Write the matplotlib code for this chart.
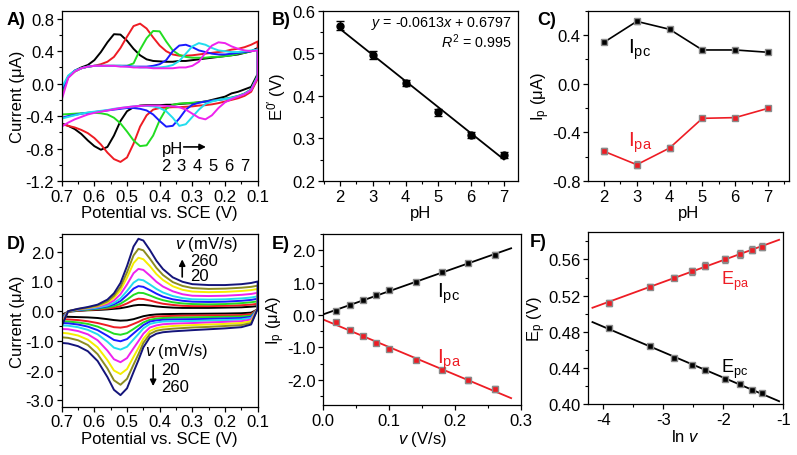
import numpy as np
import matplotlib.pyplot as plt
from matplotlib.ticker import MultipleLocator, FormatStrFormatter

plt.rcParams['font.family'] = ['Liberation Sans', 'DejaVu Sans']
plt.rcParams['mathtext.fontset'] = 'custom'
plt.rcParams['mathtext.rm'] = 'Liberation Sans'
plt.rcParams['mathtext.it'] = 'Liberation Sans:italic'
plt.rcParams['mathtext.bf'] = 'Liberation Sans:bold'
plt.rcParams['font.size'] = 12
plt.rcParams['axes.unicode_minus'] = False
plt.rcParams['axes.linewidth'] = 0.9

# ---------------- data ----------------
# panel A: CVs at different pH, potential grid (V)
potA = [0.70, 0.68, 0.66, 0.64, 0.62, 0.60, 0.58, 0.56, 0.54, 0.52, 0.50,
        0.48, 0.46, 0.44, 0.42, 0.40, 0.38, 0.36, 0.34, 0.32, 0.30, 0.28,
        0.26, 0.24, 0.22, 0.20, 0.18, 0.16, 0.14, 0.12, 0.10]
pH_labels = ['2', '3', '4', '5', '6', '7']
upperA = [
    [-0.12, 0.09, 0.16, 0.20, 0.23, 0.29, 0.39, 0.51, 0.61, 0.605, 0.53, 0.43, 0.35, 0.30, 0.28, 0.275,
     0.27, 0.27, 0.28, 0.28, 0.29, 0.30, 0.31, 0.32, 0.33, 0.34, 0.35, 0.36, 0.38, 0.40, 0.44],
    [-0.15, 0.08, 0.15, 0.19, 0.21, 0.22, 0.24, 0.27, 0.33, 0.44, 0.58, 0.71, 0.74, 0.68, 0.57, 0.47,
     0.40, 0.36, 0.345, 0.345, 0.35, 0.36, 0.37, 0.38, 0.39, 0.40, 0.42, 0.43, 0.45, 0.48, 0.52],
    [-0.12, 0.08, 0.15, 0.19, 0.21, 0.22, 0.22, 0.22, 0.22, 0.22, 0.22, 0.25, 0.42, 0.56, 0.65, 0.645,
     0.52, 0.41, 0.355, 0.33, 0.32, 0.32, 0.32, 0.33, 0.33, 0.34, 0.35, 0.37, 0.38, 0.40, 0.42],
    [-0.08, 0.09, 0.16, 0.19, 0.21, 0.22, 0.22, 0.22, 0.22, 0.22, 0.22, 0.21, 0.21, 0.21, 0.22, 0.24,
     0.29, 0.40, 0.47, 0.48, 0.45, 0.41, 0.39, 0.37, 0.36, 0.36, 0.37, 0.38, 0.39, 0.40, 0.42],
    [-0.05, 0.10, 0.16, 0.19, 0.21, 0.22, 0.22, 0.22, 0.22, 0.22, 0.21, 0.21, 0.20, 0.20, 0.20, 0.20,
     0.21, 0.23, 0.28, 0.37, 0.46, 0.50, 0.48, 0.44, 0.41, 0.40, 0.39, 0.39, 0.40, 0.41, 0.42],
    [-0.20, 0.07, 0.15, 0.19, 0.21, 0.22, 0.22, 0.22, 0.22, 0.21, 0.21, 0.20, 0.20, 0.20, 0.19, 0.19,
     0.19, 0.19, 0.20, 0.20, 0.22, 0.27, 0.38, 0.47, 0.51, 0.50, 0.46, 0.43, 0.41, 0.40, 0.41],
]
lowerA = [
    [-0.49, -0.52, -0.56, -0.62, -0.70, -0.77, -0.815, -0.78, -0.64, -0.46, -0.34, -0.29, -0.27, -0.265,
     -0.265, -0.265, -0.26, -0.26, -0.25, -0.245, -0.24, -0.23, -0.22, -0.20, -0.18, -0.16, -0.12,
     -0.10, -0.07, -0.04, 0.12],
    [-0.50, -0.52, -0.54, -0.57, -0.61, -0.67, -0.75, -0.85, -0.93, -0.965, -0.91, -0.74, -0.53, -0.39,
     -0.32, -0.30, -0.295, -0.29, -0.29, -0.285, -0.28, -0.27, -0.265, -0.255, -0.24, -0.22, -0.20,
     -0.18, -0.15, -0.10, 0.06],
    [-0.38, -0.375, -0.37, -0.365, -0.36, -0.36, -0.365, -0.38, -0.42, -0.49, -0.59, -0.70, -0.77, -0.76,
     -0.64, -0.45, -0.31, -0.26, -0.245, -0.24, -0.235, -0.23, -0.22, -0.21, -0.20, -0.185, -0.17,
     -0.15, -0.12, -0.07, 0.10],
    [-0.42, -0.40, -0.385, -0.37, -0.36, -0.35, -0.34, -0.33, -0.32, -0.31, -0.30, -0.30, -0.31, -0.33,
     -0.38, -0.46, -0.53, -0.52, -0.43, -0.32, -0.26, -0.235, -0.22, -0.21, -0.20, -0.19, -0.175,
     -0.155, -0.125, -0.075, 0.09],
    [-0.43, -0.41, -0.39, -0.37, -0.355, -0.345, -0.335, -0.325, -0.31, -0.30, -0.29, -0.28, -0.275,
     -0.275, -0.28, -0.30, -0.34, -0.42, -0.52, -0.50, -0.41, -0.32, -0.25, -0.22, -0.20, -0.19,
     -0.175, -0.155, -0.125, -0.075, 0.09],
    [-0.53, -0.48, -0.44, -0.41, -0.38, -0.36, -0.345, -0.33, -0.315, -0.30, -0.29, -0.28, -0.275,
     -0.27, -0.27, -0.27, -0.275, -0.28, -0.29, -0.32, -0.37, -0.42, -0.44, -0.39, -0.30, -0.23,
     -0.19, -0.16, -0.13, -0.08, 0.08],
]
colorsA = ['black', '#ee1c24', '#22dd22', '#1a1aff', '#22ddee', '#ee22ee']

# panel B: formal potential vs pH
pH = [2, 3, 4, 5, 6, 7]
E0 = [0.565, 0.496, 0.430, 0.361, 0.309, 0.261]
E0_err = [0.010, 0.009, 0.008, 0.008, 0.007, 0.007]
fit_slope, fit_icpt = -0.0613, 0.6797

# panel C: peak currents vs pH
Ipc_pH = [0.34, 0.512, 0.447, 0.277, 0.277, 0.258]
Ipa_pH = [-0.556, -0.666, -0.529, -0.285, -0.279, -0.203]
Ipc_pH_err = [0.015, 0.02, 0.015, 0.01, 0.01, 0.01]
Ipa_pH_err = [0.025, 0.03, 0.025, 0.012, 0.012, 0.012]

# panel D: CVs at different scan rates
potD = [0.70, 0.68, 0.65, 0.62, 0.59, 0.56, 0.54, 0.52, 0.50, 0.48, 0.465, 0.45,
        0.43, 0.41, 0.39, 0.36, 0.33, 0.30, 0.25, 0.20, 0.15, 0.12, 0.10]
upperD = [
    [-0.12, -0.02, 0.01, 0.03, 0.04, 0.06, 0.08, 0.10, 0.14, 0.19, 0.21, 0.21, 0.19, 0.16, 0.14, 0.12, 0.11, 0.11, 0.11, 0.12, 0.13, 0.15, 0.17],
    [-0.18, -0.01, 0.02, 0.04, 0.06, 0.09, 0.12, 0.17, 0.26, 0.37, 0.42, 0.41, 0.36, 0.30, 0.25, 0.21, 0.18, 0.17, 0.17, 0.18, 0.20, 0.22, 0.25],
    [-0.22, -0.01, 0.03, 0.05, 0.08, 0.12, 0.17, 0.25, 0.39, 0.55, 0.62, 0.61, 0.53, 0.44, 0.37, 0.30, 0.26, 0.24, 0.23, 0.24, 0.27, 0.30, 0.33],
    [-0.26, 0.0, 0.04, 0.07, 0.10, 0.16, 0.23, 0.34, 0.54, 0.76, 0.845, 0.82, 0.71, 0.59, 0.49, 0.40, 0.35, 0.32, 0.31, 0.32, 0.35, 0.38, 0.42],
    [-0.30, 0.0, 0.05, 0.08, 0.12, 0.19, 0.28, 0.43, 0.68, 0.96, 1.07, 1.04, 0.90, 0.75, 0.63, 0.51, 0.44, 0.40, 0.39, 0.40, 0.43, 0.46, 0.50],
    [-0.36, 0.0, 0.06, 0.10, 0.15, 0.24, 0.36, 0.57, 0.90, 1.28, 1.425, 1.39, 1.20, 0.99, 0.83, 0.67, 0.57, 0.52, 0.51, 0.52, 0.55, 0.58, 0.62],
    [-0.42, 0.0, 0.07, 0.11, 0.17, 0.29, 0.45, 0.71, 1.13, 1.62, 1.80, 1.75, 1.52, 1.25, 1.05, 0.84, 0.72, 0.66, 0.64, 0.65, 0.68, 0.71, 0.75],
    [-0.46, 0.0, 0.07, 0.12, 0.19, 0.33, 0.52, 0.82, 1.31, 1.88, 2.10, 2.05, 1.77, 1.46, 1.22, 0.98, 0.85, 0.78, 0.75, 0.76, 0.79, 0.82, 0.86],
    [-0.50, 0.0, 0.08, 0.14, 0.22, 0.39, 0.60, 0.95, 1.52, 2.18, 2.44, 2.38, 2.06, 1.70, 1.42, 1.14, 0.99, 0.91, 0.88, 0.88, 0.91, 0.95, 1.00],
]
lowerD = [
    [-0.18, -0.19, -0.20, -0.21, -0.23, -0.27, -0.30, -0.32, -0.31, -0.27, -0.22, -0.17, -0.13, -0.11, -0.10, -0.095, -0.09, -0.09, -0.085, -0.08, -0.07, -0.05, 0.06],
    [-0.27, -0.28, -0.30, -0.34, -0.40, -0.48, -0.54, -0.555, -0.52, -0.43, -0.36, -0.28, -0.21, -0.18, -0.17, -0.16, -0.155, -0.15, -0.145, -0.14, -0.13, -0.10, 0.07],
    [-0.34, -0.35, -0.38, -0.43, -0.52, -0.66, -0.76, -0.795, -0.74, -0.60, -0.49, -0.38, -0.29, -0.25, -0.23, -0.22, -0.215, -0.21, -0.20, -0.19, -0.18, -0.15, 0.07],
    [-0.40, -0.41, -0.45, -0.52, -0.64, -0.83, -0.97, -1.015, -0.94, -0.75, -0.61, -0.47, -0.35, -0.31, -0.29, -0.28, -0.275, -0.27, -0.26, -0.245, -0.23, -0.19, 0.07],
    [-0.48, -0.49, -0.54, -0.63, -0.78, -1.03, -1.23, -1.295, -1.20, -0.95, -0.77, -0.58, -0.43, -0.38, -0.35, -0.34, -0.335, -0.33, -0.315, -0.30, -0.28, -0.23, 0.07],
    [-0.60, -0.61, -0.67, -0.78, -0.98, -1.33, -1.62, -1.72, -1.58, -1.25, -1.01, -0.76, -0.55, -0.48, -0.44, -0.42, -0.41, -0.40, -0.38, -0.36, -0.34, -0.28, 0.08],
    [-0.73, -0.75, -0.82, -0.96, -1.22, -1.65, -2.00, -2.12, -1.95, -1.54, -1.24, -0.93, -0.67, -0.57, -0.53, -0.50, -0.485, -0.47, -0.45, -0.43, -0.40, -0.34, 0.08],
    [-0.88, -0.90, -0.98, -1.14, -1.45, -1.93, -2.33, -2.48, -2.28, -1.80, -1.45, -1.07, -0.77, -0.66, -0.62, -0.59, -0.57, -0.55, -0.53, -0.50, -0.47, -0.40, 0.08],
    [-1.07, -1.09, -1.18, -1.35, -1.68, -2.22, -2.65, -2.83, -2.60, -2.05, -1.65, -1.22, -0.88, -0.76, -0.71, -0.68, -0.66, -0.64, -0.61, -0.58, -0.54, -0.45, 0.08],
]
colorsD = ['black', '#ee1c24', '#22dd22', '#1a1aff', '#22ddee', '#ee22ee',
           '#f5ee00', '#8c8c20', '#14147a']

# panels E, F: peak currents / potentials vs scan rate
scan_rate = [0.02, 0.04, 0.06, 0.08, 0.10, 0.14, 0.18, 0.22, 0.26]   # V/s
Ipc_v = [0.13, 0.30, 0.45, 0.61, 0.76, 1.03, 1.32, 1.59, 1.86]
Ipa_v = [-0.23, -0.46, -0.66, -0.85, -1.05, -1.38, -1.70, -2.01, -2.29]
Ipc_v_err = [0.04, 0.04, 0.04, 0.04, 0.05, 0.05, 0.05, 0.06, 0.07]
Ipa_v_err = [0.05, 0.05, 0.05, 0.05, 0.06, 0.06, 0.07, 0.08, 0.09]
Epa_v = [0.512, 0.530, 0.540, 0.547, 0.553, 0.560, 0.566, 0.571, 0.574]
Epc_v = [0.484, 0.464, 0.451, 0.443, 0.438, 0.428, 0.422, 0.415, 0.412]
Epa_err = [0.003, 0.003, 0.003, 0.004, 0.004, 0.004, 0.004, 0.004, 0.004]
Epc_err = [0.002, 0.002, 0.002, 0.002, 0.002, 0.002, 0.002, 0.002, 0.002]

RED = '#ee1c24'
GRAY = '#8a8a8a'

# ---------------- figure ----------------
fig = plt.figure(figsize=(7.97, 4.56), dpi=100)
axA = fig.add_axes([0.0774, 0.6009, 0.2459, 0.3735])
axB = fig.add_axes([0.4049, 0.6009, 0.2450, 0.3735])
axC = fig.add_axes([0.7381, 0.6009, 0.2522, 0.3735])
axD = fig.add_axes([0.0774, 0.1059, 0.2459, 0.3787])
axE = fig.add_axes([0.4056, 0.1096, 0.2481, 0.3750])
axF = fig.add_axes([0.7381, 0.1118, 0.2447, 0.3765])


def style(ax, xmaj, xmin, ymaj, ymin, xfmt, yfmt):
    ax.xaxis.set_major_locator(MultipleLocator(xmaj))
    ax.xaxis.set_minor_locator(MultipleLocator(xmin))
    ax.yaxis.set_major_locator(MultipleLocator(ymaj))
    ax.yaxis.set_minor_locator(MultipleLocator(ymin))
    ax.xaxis.set_major_formatter(FormatStrFormatter(xfmt))
    ax.yaxis.set_major_formatter(FormatStrFormatter(yfmt))
    ax.tick_params(which='major', direction='out', length=3.5, width=0.9,
                   labelsize=12, top=False, right=False, pad=2)
    ax.tick_params(which='minor', direction='out', length=2, width=0.8,
                   top=False, right=False)


def cv_loop(ax, pot, up, lo, color):
    pot = np.asarray(pot)
    x = np.concatenate([pot, pot[::-1], pot[:1]])
    y = np.concatenate([up, lo[::-1], up[:1]])
    ax.plot(x, y, color=color, lw=1.4)


# A
for up, lo, c in zip(upperA, lowerA, colorsA):
    cv_loop(axA, potA, up, lo, c)
axA.set_xlim(0.7, 0.1)
axA.set_ylim(-1.2, 0.9)
style(axA, 0.1, 0.05, 0.4, 0.2, '%.1f', '%.1f')
axA.set_xlabel('Potential vs. SCE (V)', labelpad=1)
axA.set_ylabel('Current (μA)', labelpad=0)
axA.text(0.392, -0.857, 'pH', fontsize=12)
axA.annotate('', xy=(0.250, -0.78), xytext=(0.335, -0.78),
             arrowprops=dict(arrowstyle='-|>', color='black', lw=1.2,
                             mutation_scale=9))
for i, lab in enumerate(pH_labels):
    axA.text(0.382 - i * 0.0482, -1.07, lab, fontsize=12, ha='center')

# B
xfit = np.array([2.0, 7.0])
axB.plot(xfit, fit_slope * xfit + fit_icpt, color='black', lw=1.3)
axB.errorbar(pH, E0, yerr=E0_err, fmt='o', color='black', ms=5,
             capsize=3, elinewidth=1, capthick=1)
axB.set_xlim(1.47, 7.43)
axB.set_ylim(0.2, 0.6)
style(axB, 1, 0.5, 0.1, 0.05, '%d', '%.1f')
axB.set_xlabel('pH', labelpad=1)
axB.set_ylabel('E$^{\\mathregular{0\u2032}}$ (V)', labelpad=3)
axB.text(0.969, 0.91, '$y$ = -0.0613$x$ + 0.6797', transform=axB.transAxes,
         ha='right', fontsize=10.3)
axB.text(0.969, 0.785, '$R^\\mathregular{2}$ = 0.995', transform=axB.transAxes,
         ha='right', fontsize=10.3)

# C
axC.plot(pH, Ipc_pH, color='black', lw=1.2)
axC.errorbar(pH, Ipc_pH, yerr=Ipc_pH_err, fmt='s', color='black', ms=4.5,
             mec=GRAY, ecolor=GRAY, capsize=2.5, elinewidth=1)
axC.plot(pH, Ipa_pH, color=RED, lw=1.2)
axC.errorbar(pH, Ipa_pH, yerr=Ipa_pH_err, fmt='s', color=RED, ms=4.5,
             mec=GRAY, ecolor=GRAY, capsize=2.5, elinewidth=1)
axC.set_xlim(1.52, 7.65)
axC.set_ylim(-0.8, 0.6)
style(axC, 1, 0.5, 0.4, 0.2, '%d', '%.1f')
axC.set_xlabel('pH', labelpad=1)
axC.set_ylabel('I$_\\mathregular{p}$ (μA)', labelpad=0)
axC.text(2.74, 0.255, 'I$_\\mathregular{pc}$', fontsize=15)
axC.text(2.74, -0.51, 'I$_\\mathregular{pa}$', fontsize=15, color=RED)

# D
for up, lo, c in zip(upperD, lowerD, colorsD):
    cv_loop(axD, potD, up, lo, c)
axD.set_xlim(0.7, 0.1)
axD.set_ylim(-3.22, 2.6)
style(axD, 0.1, 0.05, 1.0, 0.5, '%.1f', '%.1f')
axD.set_xlabel('Potential vs. SCE (V)', labelpad=1)
axD.set_ylabel('Current (μA)', labelpad=0)
axD.text(0.353, 2.13, '$v$ (mV/s)', fontsize=12)
axD.annotate('', xy=(0.331, 1.84), xytext=(0.331, 1.06),
             arrowprops=dict(arrowstyle='-|>', color='black', lw=1.2,
                             mutation_scale=9))
axD.text(0.308, 1.56, '260', fontsize=12)
axD.text(0.308, 1.06, '20', fontsize=12)
axD.text(0.445, -1.48, '$v$ (mV/s)', fontsize=12)
axD.annotate('', xy=(0.42, -2.62), xytext=(0.42, -1.72),
             arrowprops=dict(arrowstyle='-|>', color='black', lw=1.2,
                             mutation_scale=9))
axD.text(0.395, -2.12, '20', fontsize=12)
axD.text(0.395, -2.70, '260', fontsize=12)

# E
xl = np.array([0.0, 0.285])
p_c = np.polyfit(scan_rate, Ipc_v, 1)
p_a = np.polyfit(scan_rate, Ipa_v, 1)
axE.plot(xl, np.polyval(p_c, xl), color='black', lw=1.3)
axE.plot(xl, np.polyval(p_a, xl), color=RED, lw=1.3)
axE.errorbar(scan_rate, Ipc_v, yerr=Ipc_v_err, fmt='s', color='black', ms=4.5,
             mec=GRAY, ecolor=GRAY, capsize=2.5, elinewidth=1)
axE.errorbar(scan_rate, Ipa_v, yerr=Ipa_v_err, fmt='s', color=RED, ms=4.5,
             mec=GRAY, ecolor=GRAY, capsize=2.5, elinewidth=1)
axE.set_xlim(0.0, 0.3)
axE.set_ylim(-2.78, 2.5)
style(axE, 0.1, 0.05, 1.0, 0.5, '%.1f', '%.1f')
axE.set_xlabel('$v$ (V/s)', labelpad=1)
axE.set_ylabel('I$_\\mathregular{p}$ (μA)', labelpad=0)
axE.text(0.1726, 0.57, 'I$_\\mathregular{pc}$', fontsize=15)
axE.text(0.1726, -1.47, 'I$_\\mathregular{pa}$', fontsize=15, color=RED)

# F
lnv = np.log(scan_rate)
xf = np.array([-4.18, -1.07])
q_a = np.polyfit(lnv, Epa_v, 1)
q_c = np.polyfit(lnv, Epc_v, 1)
axF.plot(xf, np.polyval(q_a, xf), color=RED, lw=1.3)
axF.plot(xf, np.polyval(q_c, xf), color='black', lw=1.3)
axF.errorbar(lnv, Epa_v, yerr=Epa_err, fmt='s', color=RED, ms=4.5,
             mec=GRAY, ecolor=GRAY, capsize=2.5, elinewidth=1)
axF.errorbar(lnv, Epc_v, yerr=Epc_err, fmt='s', color='black', ms=4.5,
             mec=GRAY, ecolor=GRAY, capsize=2.5, elinewidth=1)
axF.set_xlim(-4.25, -1.0)
axF.set_ylim(0.40, 0.59)
style(axF, 1, 0.5, 0.04, 0.02, '%d', '%.2f')
axF.set_xlabel('ln $v$', labelpad=1)
axF.set_ylabel('E$_\\mathregular{p}$ (V)', labelpad=0)
axF.text(-2.03, 0.533, 'E$_\\mathregular{pa}$', fontsize=13, color=RED)
axF.text(-2.03, 0.435, 'E$_\\mathregular{pc}$', fontsize=13)

# panel letters
for lab, px, py in [('A)', 7, 25), ('B)', 272, 25), ('C)', 537, 25),
                    ('D)', 7, 249), ('E)', 272, 249), ('F)', 530, 247)]:
    fig.text(px / 797, 1 - py / 456, lab, fontsize=13, fontweight='bold')

fig.savefig('out.png', dpi=100)
